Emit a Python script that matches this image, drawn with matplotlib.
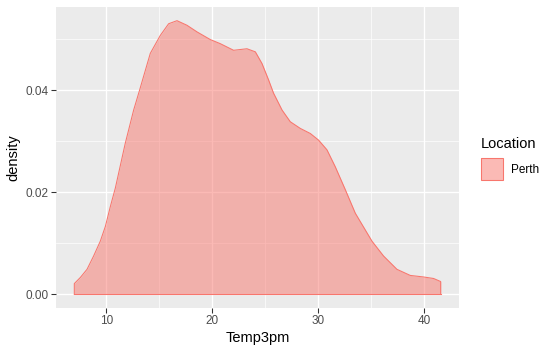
import matplotlib
matplotlib.use("Agg")
import matplotlib.pyplot as plt
from matplotlib.patches import Rectangle

plt.rcParams["font.family"] = ["Liberation Sans", "DejaVu Sans"]

# density curve of Temp3pm for Perth
temp = [6.98, 7.55, 8.18, 8.80, 9.43, 9.91, 10.38, 10.85, 11.79, 12.58, 13.14,
        14.15, 15.09, 15.88, 16.67, 17.61, 18.56, 19.81, 20.75, 22.01, 23.27, 24.06,
        24.69, 25.31, 25.78, 26.58, 27.36, 28.30, 29.25, 30.03, 30.82, 31.60, 32.55,
        33.49, 35.07, 36.16, 37.42, 38.68, 39.93, 40.88, 41.55]
dens = [0.0021, 0.0033, 0.0049, 0.0075, 0.0104, 0.0133, 0.0172, 0.0208, 0.0296, 0.0361, 0.0400,
        0.0472, 0.0507, 0.0530, 0.0536, 0.0527, 0.0514, 0.0499, 0.0491, 0.0478, 0.0481, 0.0475,
        0.0452, 0.0420, 0.0394, 0.0361, 0.0338, 0.0325, 0.0315, 0.0302, 0.0283, 0.0250, 0.0205,
        0.0159, 0.0104, 0.0075, 0.0049, 0.0037, 0.0034, 0.0031, 0.0025]
location = "Perth"
fill_col = "#F8766D"

fig = plt.figure(figsize=(555/96, 354/96), dpi=96)
ax = fig.add_axes([56/555, 1-308/354, (459-56)/555, (308-7)/354])
ax.set_facecolor("#EBEBEB")

xs = [temp[0]] + temp + [temp[-1]]
ys = [0] + dens + [0]
ax.fill_between(temp, 0, dens, color=fill_col, alpha=0.5, lw=0, zorder=3)
ax.plot(xs, ys, color=fill_col, lw=0.8, zorder=4)
ax.plot([temp[0], temp[-1]], [0, 0], color=fill_col, lw=0.8, zorder=4)

rng = temp[-1] - temp[0]
ax.set_xlim(temp[0] - 0.05*rng, temp[-1] + 0.05*rng)
ax.set_ylim(-0.05*max(dens), 1.05*max(dens))

ax.set_xticks([10, 20, 30, 40])
ax.set_yticks([0, 0.02, 0.04])
ax.set_yticklabels(["0.00", "0.02", "0.04"])
ax.set_xticks([15, 25, 35], minor=True)
ax.set_yticks([0.01, 0.03, 0.05], minor=True)
ax.grid(True, which="major", color="white", lw=1.0)
ax.grid(True, which="minor", color="white", lw=0.5)
ax.set_axisbelow(True)
ax.tick_params(which="major", length=3.5, width=0.8, color="#333333",
               labelcolor="#4D4D4D", labelsize=8.8, pad=2)
ax.tick_params(which="minor", length=0)
for s in ax.spines.values():
    s.set_visible(False)

ax.set_xlabel("Temp3pm", fontsize=11, labelpad=3)
ax.set_ylabel("density", fontsize=11, labelpad=4)

# legend
fig.text(481/555, 1-144/354, "Location", fontsize=11, va="center", ha="left")
fig.add_artist(Rectangle((481/555, 1-180/354), 22/555, 22/354, transform=fig.transFigure,
                         facecolor=fill_col, alpha=0.5, lw=0))
fig.add_artist(Rectangle((481/555, 1-180/354), 22/555, 22/354, transform=fig.transFigure,
                         facecolor="none", edgecolor=fill_col, lw=0.8))
fig.text(511/555, 1-170/354, location, fontsize=8.8, va="center", ha="left")

fig.savefig("out.png", dpi=96)
